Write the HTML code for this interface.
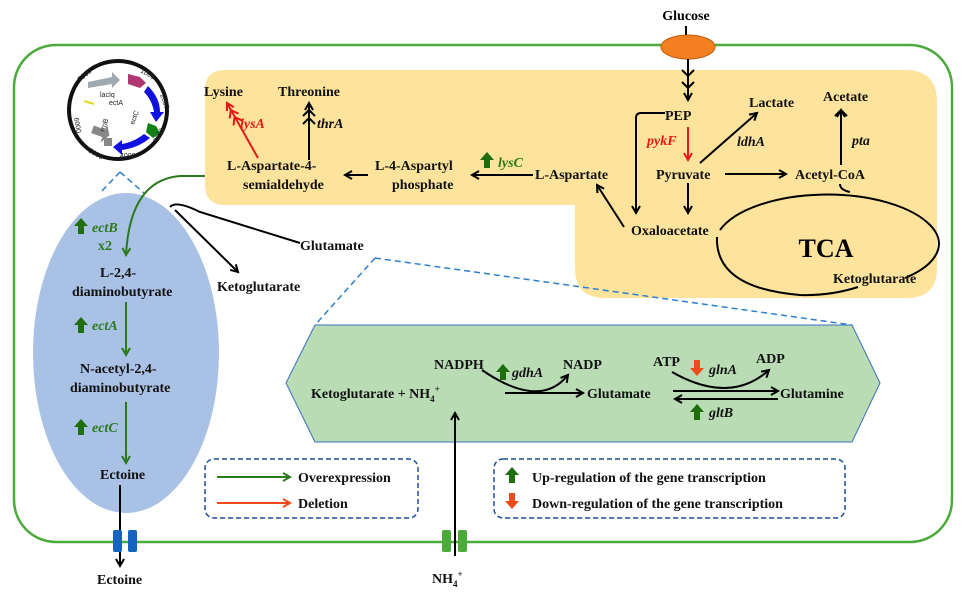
<!DOCTYPE html>
<html><head><meta charset="utf-8"><style>
html,body{margin:0;padding:0;background:#fff;}
svg{display:block;font-family:"Liberation Serif",serif;font-weight:bold;}
</style></head><body>
<svg width="969" height="593" viewBox="0 0 969 593" xmlns="http://www.w3.org/2000/svg">
<defs>
<marker id="ak" markerWidth="10" markerHeight="10" refX="8" refY="5" orient="auto" markerUnits="userSpaceOnUse"><path d="M1,1 L8,5 L1,9" fill="none" stroke="#000" stroke-width="2"/></marker>
<marker id="ag" markerWidth="10" markerHeight="10" refX="8" refY="5" orient="auto" markerUnits="userSpaceOnUse"><path d="M1,1 L8,5 L1,9" fill="none" stroke="#2b7a1c" stroke-width="2"/></marker>
<marker id="ar" markerWidth="10" markerHeight="10" refX="8" refY="5" orient="auto" markerUnits="userSpaceOnUse"><path d="M1,1 L8,5 L1,9" fill="none" stroke="#e41a1a" stroke-width="2"/></marker>
<marker id="ao" markerWidth="10" markerHeight="10" refX="8" refY="5" orient="auto" markerUnits="userSpaceOnUse"><path d="M1,1 L8,5 L1,9" fill="none" stroke="#f04a1a" stroke-width="2"/></marker>
<g id="up"><path d="M0,-8 L7,0 L3,0 L3,8 L-3,8 L-3,0 L-7,0 Z" fill="#1e6e0e"/></g>
</defs>
<rect x="14" y="45" width="938" height="497" rx="42" fill="none" stroke="#4aaa3a" stroke-width="2.5"/>
<path d="M225,70 H905 Q937,70 937,102 V268 Q937,298 907,298 H605 Q575,298 575,268 V205 H225 Q205,205 205,185 V90 Q205,70 225,70 Z" fill="#fde39b"/>
<ellipse cx="126" cy="353" rx="93" ry="160" fill="#aac1e6"/>
<polygon points="286,383 315,325 852,325 880,383 852,442 315,442" fill="#b9dcb5" stroke="#3a6fc0" stroke-width="1"/>
<g stroke="#2c7fd0" stroke-width="1.5" stroke-dasharray="6,4" fill="none">
<line x1="120" y1="172" x2="100" y2="193"/><line x1="120" y1="172" x2="144" y2="193"/>
<line x1="375" y1="258" x2="315" y2="325"/><line x1="375" y1="258" x2="852" y2="325"/>
</g>
<circle cx="118" cy="110" r="49" fill="#fff" stroke="#111" stroke-width="4"/>
<path d="M88,82 L112,77 L112,72 L120,80 L112,88 L112,84 L88,88 Z" fill="#a0a8b0"/>
<path d="M128,74 L140,77 L146,83 L140,88 L128,84 Z" fill="#b03870"/>
<path d="M148,86 Q160,98 160,112 L164,112 L156,122 L150,112 L154,112 Q152,100 144,92 Z" fill="#1010e0"/>
<path d="M148,123 L156,126 L160,133 L153,138 L146,132 Z" fill="#128012"/>
<path d="M150,138 Q138,148 122,150 L122,155 L113,147 L122,140 L122,144 Q134,142 144,134 Z" fill="#1010e0"/>
<path d="M92,128 L104,128 L104,122 L110,132 L104,142 L104,136 L92,136 Z" fill="#888" transform="rotate(20 100 132)"/>
<rect x="104" y="138" width="8" height="8" fill="#888"/>
<line x1="84" y1="101" x2="94" y2="104" stroke="#e8d820" stroke-width="2"/>
<g font-family="Liberation Sans,sans-serif" font-weight="normal" font-size="7" fill="#222">
<text x="100" y="97">lacIq</text><text x="109" y="105">ectA</text><text x="134" y="125" transform="rotate(-70 134 125)">ectC</text><text x="104" y="132" transform="rotate(-70 104 132)">rrnB</text>
<text x="140" y="72" transform="rotate(30 140 72)">1000</text><text x="160" y="95" transform="rotate(70 160 95)">2000</text><text x="157" y="143" transform="rotate(-60 157 143)">3000</text><text x="120" y="158">4000</text><text x="88" y="152" transform="rotate(30 88 152)">5000</text><text x="74" y="118" transform="rotate(80 74 118)">6000</text><text x="80" y="82" transform="rotate(-40 80 82)">7000</text>
</g>
<text x="686" y="20" font-size="14" text-anchor="middle">Glucose</text>
<line x1="686" y1="26" x2="686" y2="36" stroke="#000" stroke-width="2"/>
<ellipse cx="688" cy="47" rx="27" ry="12" fill="#f47f20" stroke="#c06010" stroke-width="1"/>
<g stroke="#000" stroke-width="2" fill="none">
<line x1="688" y1="59" x2="688" y2="100" marker-end="url(#ak)"/>
<path d="M682,70 L688,76 L694,70 M682,82 L688,88 L694,82"/>
<path d="M665,113 H641 Q636,113 636,118 V213" marker-end="url(#ak)"/>
<line x1="688" y1="183" x2="688" y2="213" marker-end="url(#ak)"/>
<line x1="700" y1="163" x2="757" y2="113" marker-end="url(#ak)"/>
<line x1="725" y1="174" x2="786" y2="174" marker-end="url(#ak)"/>
<line x1="841" y1="165" x2="841" y2="110" marker-end="url(#ak)"/>
<path d="M835,116 L841,110 L847,116"/>
<line x1="624" y1="227" x2="597" y2="185" marker-end="url(#ak)"/>
<line x1="533" y1="175" x2="472" y2="175" marker-end="url(#ak)"/>
<line x1="368" y1="175" x2="345" y2="175" marker-end="url(#ak)"/>
<line x1="309" y1="160" x2="309" y2="103" marker-end="url(#ak)"/>
<path d="M303,116 L309,110 L315,116 M303,124 L309,118 L315,124"/>
<path d="M720,230 A113,52 0 0 1 930,225 A113,48 0 0 1 905,278"/>
<path d="M717,237 Q715,288 800,295 Q830,296 858,287"/>
<path d="M840,184 Q840,190 850,192"/>
<path d="M170,207 Q176,200 200,212 L300,243"/>
<path d="M175,210 L238,272" marker-end="url(#ak)"/>
<line x1="120" y1="485" x2="120" y2="566" marker-end="url(#ak)"/>
<line x1="455" y1="556" x2="455" y2="413" marker-end="url(#ak)"/>
<line x1="505" y1="393" x2="583" y2="393" marker-end="url(#ak)"/>
<path d="M482,370 Q540,410 568,375" marker-end="url(#ak)"/>
<line x1="673" y1="391" x2="778" y2="391" marker-end="url(#ak)"/>
<line x1="778" y1="399" x2="675" y2="399" marker-end="url(#ak)"/>
<path d="M672,372 Q730,405 769,370" marker-end="url(#ak)"/>
</g>
<line x1="688" y1="127" x2="688" y2="160" stroke="#e41a1a" stroke-width="2" marker-end="url(#ar)"/>
<line x1="258" y1="158" x2="227" y2="103" stroke="#e41a1a" stroke-width="2" marker-end="url(#ar)"/>
<path d="M229.7,118.5 L230.8,110 L238.5,113.7 M233.5,125.5 L234.6,117 L242.3,120.7" stroke="#e41a1a" stroke-width="2" fill="none"/>
<g stroke="#2b7a1c" stroke-width="2" fill="none">
<path d="M205,176 L180,176 Q130,180 126,255" marker-end="url(#ag)"/>
<line x1="126" y1="302" x2="126" y2="355" marker-end="url(#ag)"/>
<line x1="126" y1="402" x2="126" y2="463" marker-end="url(#ag)"/>
<line x1="217" y1="477" x2="290" y2="477" marker-end="url(#ag)"/>
</g>
<line x1="217" y1="503" x2="290" y2="503" stroke="#f04a1a" stroke-width="2" marker-end="url(#ao)"/>
<rect x="113" y="530" width="9" height="22" rx="2" fill="#1565c0"/><rect x="128" y="530" width="9" height="22" rx="2" fill="#1565c0"/>
<rect x="442" y="530" width="9" height="22" rx="2" fill="#4aaa3a"/><rect x="458" y="530" width="9" height="22" rx="2" fill="#4aaa3a"/>
<g font-size="14" fill="#111">
<text x="665" y="120">PEP</text><text x="749" y="107">Lactate</text><text x="823" y="101">Acetate</text>
<text x="656" y="179">Pyruvate</text><text x="795" y="179">Acetyl-CoA</text>
<text x="631" y="235">Oxaloacetate</text><text x="833" y="283">Ketoglutarate</text>
<text x="535" y="179">L-Aspartate</text>
<text x="375" y="170">L-4-Aspartyl</text><text x="392" y="189">phosphate</text>
<text x="227" y="170">L-Aspartate-4-</text><text x="243" y="189">semialdehyde</text>
<text x="204" y="96">Lysine</text><text x="278" y="96">Threonine</text>
<text x="300" y="250">Glutamate</text><text x="217" y="291">Ketoglutarate</text>
<text x="100" y="277">L-2,4-</text><text x="72" y="296">diaminobutyrate</text>
<text x="80" y="373">N-acetyl-2,4-</text><text x="70" y="392">diaminobutyrate</text>
<text x="100" y="479">Ectoine</text><text x="97" y="584">Ectoine</text>
<text x="432" y="583">NH<tspan font-size="9" dy="4">4</tspan><tspan font-size="9" dy="-10">+</tspan></text>
<text x="434" y="369">NADPH</text><text x="563" y="369">NADP</text><text x="653" y="366">ATP</text><text x="756" y="363">ADP</text>
<text x="311" y="398">Ketoglutarate + NH<tspan font-size="9" dy="4">4</tspan><tspan font-size="9" dy="-10">+</tspan></text>
<text x="587" y="398">Glutamate</text><text x="780" y="398">Glutamine</text>
<text x="298" y="482">Overexpression</text><text x="298" y="508">Deletion</text>
<text x="532" y="482">Up-regulation of the gene transcription</text>
<text x="532" y="508">Down-regulation of the gene transcription</text>
</g>
<text x="826" y="257" font-size="26" text-anchor="middle">TCA</text>
<g font-size="14" font-style="italic">
<text x="647" y="145" fill="#e41a1a">pykF</text><text x="240" y="128" fill="#e41a1a">lysA</text>
<text x="737" y="146" fill="#111">ldhA</text><text x="852" y="145" fill="#111">pta</text><text x="317" y="128" fill="#111">thrA</text>
<text x="498" y="167" fill="#2b7a1c">lysC</text>
<text x="92" y="232" fill="#2b7a1c">ectB</text><text x="98" y="250" fill="#2b7a1c" font-style="normal">x2</text>
<text x="92" y="330" fill="#2b7a1c">ectA</text><text x="92" y="432" fill="#2b7a1c">ectC</text>
<text x="512" y="377" fill="#111">gdhA</text><text x="709" y="374" fill="#111">glnA</text><text x="709" y="417" fill="#111">gltB</text>
</g>
<use href="#up" x="487" y="160"/>
<use href="#up" x="81" y="226"/><use href="#up" x="81" y="325"/><use href="#up" x="81" y="427"/>
<use href="#up" x="503" y="372"/><use href="#up" x="697" y="412"/>
<use href="#up" x="512" y="475"/>
<path d="M505,501 L519,501 L512,509 Z M509,493 H515 V501 H509 Z" fill="#f04a1a"/>
<path d="M690,368 L704,368 L697,376 Z M694,360 H700 V368 H694 Z" fill="#f04a1a"/>
<rect x="205" y="459" width="213" height="59" rx="9" fill="none" stroke="#1a4f9a" stroke-width="1.5" stroke-dasharray="5,3"/>
<rect x="494" y="459" width="351" height="59" rx="9" fill="none" stroke="#1a4f9a" stroke-width="1.5" stroke-dasharray="5,3"/>
</svg>
</body></html>
